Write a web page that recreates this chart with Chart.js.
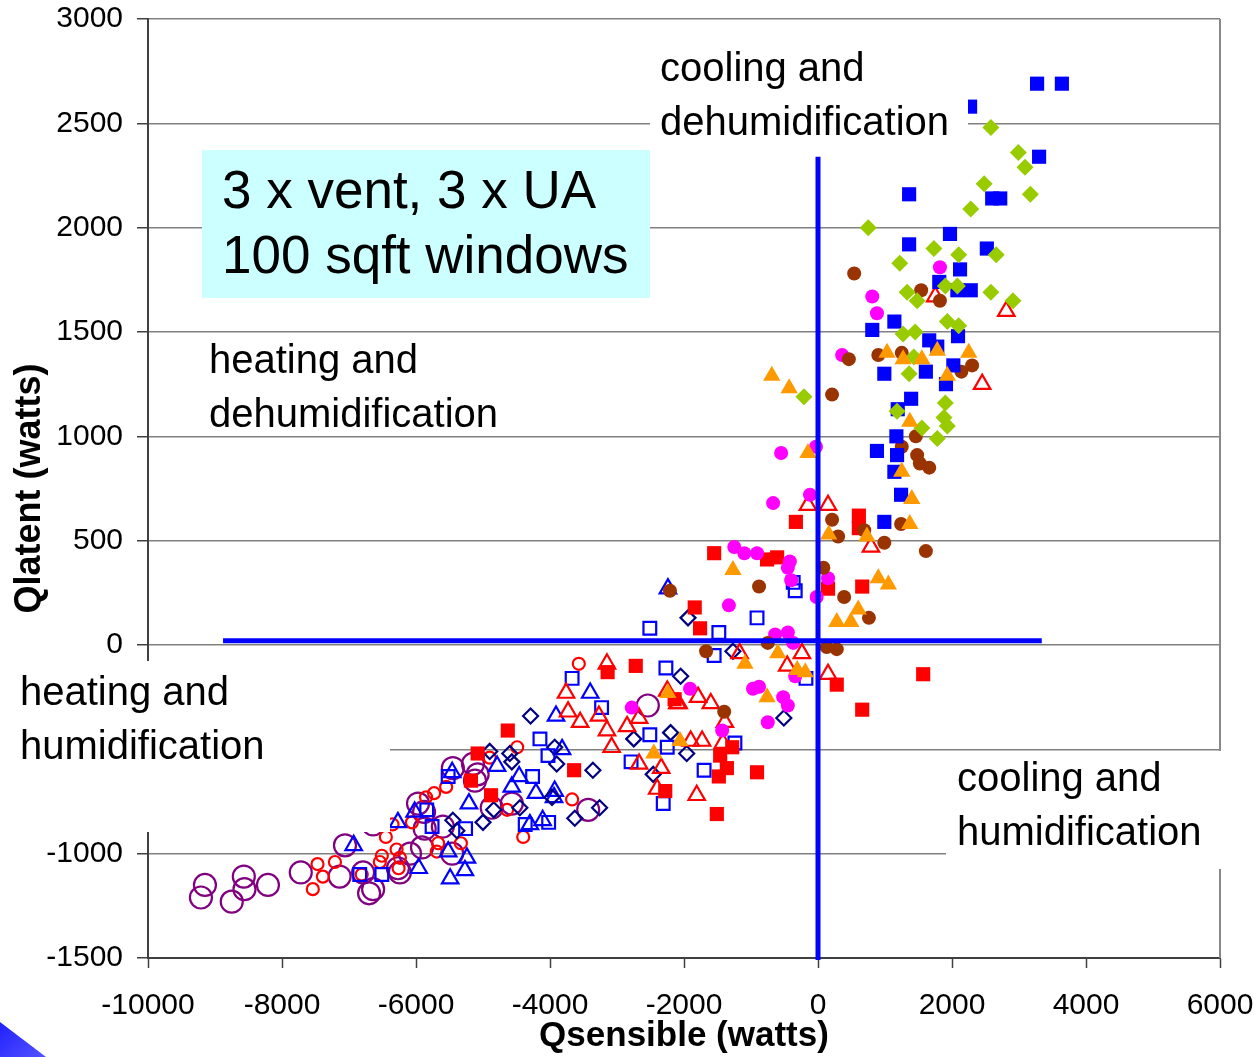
<!DOCTYPE html>
<html lang="en">
<head>
    <meta charset="UTF-8">
    <title>Qsensible vs Qlatent</title>
    <script src="https://cdn.jsdelivr.net/npm/chart.js"></script>
    <style>
        body {
            margin: 0;
            background: #ffffff;
        }
        #wrap {
            width: 1256px;
            height: 1057px;
        }
    </style>
</head>
<body>
    <div id="wrap">
        <canvas id="scatterChart"></canvas>
    </div>
    <script>
        // axis ticks
        const xTicks = [-10000, -8000, -6000, -4000, -2000, 0, 2000, 4000, 6000];
        const yTicks = [-1500, -1000, -500, 0, 500, 1000, 1500, 2000, 2500, 3000];

        // quadrant dividers (watts)
        const hDivider = [[-8880, 20], [3340, 20]];
        const vDivider = [[0, 2340], [0, -1510]];

        // series values, [Qsensible, Qlatent]
        const blueSquares = [[3270, 2690], [3640, 2690], [2270, 2580], [3300, 2340], [1360, 2160], [2600, 2140],
            [2720, 2140], [1970, 1970], [1360, 1920], [2520, 1900], [2120, 1800], [1810, 1740], [2080, 1700],
            [2280, 1700], [1140, 1550], [810, 1510], [1660, 1460], [2090, 1480], [1780, 1430], [990, 1300],
            [1610, 1310], [2020, 1340], [1910, 1250], [1390, 1180], [1190, 1130], [1170, 1000], [880, 930],
            [1180, 910], [1140, 830], [1240, 720], [990, 590]];
        const greenDiamonds = [[2580, 2480], [2990, 2360], [3090, 2290], [2480, 2210], [3170, 2160], [2280, 2090],
            [750, 2000], [1730, 1900], [2100, 1870], [2660, 1870], [1220, 1830], [1900, 1720], [2080, 1720],
            [2580, 1690], [2910, 1650], [1330, 1690], [1480, 1650], [1930, 1550], [2100, 1530], [1270, 1490],
            [1450, 1500], [1430, 1380], [1360, 1300], [-210, 1190], [1180, 1120], [1900, 1160], [1880, 1090],
            [1930, 1050], [1550, 1040], [1780, 990]];
        const orangeTriangles = [[-690, 1290], [-430, 1230], [1030, 1400], [1270, 1370], [1550, 1370], [1780, 1410],
            [2250, 1400], [1930, 1290], [1370, 1070], [-150, 920], [1250, 830], [1400, 700], [1370, 580],
            [160, 530], [730, 520], [-1270, 360], [280, 110], [490, 110], [600, 170], [900, 320], [1050, 290],
            [-600, -40], [-1090, -90], [-310, -120], [-190, -130], [-760, -250], [-2240, -230], [-2450, -520],
            [-2060, -460]];
        const brownCircles = [[540, 1780], [1540, 1700], [1820, 1650], [460, 1370], [900, 1390], [1250, 1400],
            [2140, 1310], [2300, 1340], [210, 1200], [1460, 1000], [1250, 950], [1480, 910], [1520, 870],
            [1660, 850], [210, 600], [300, 520], [690, 550], [990, 490], [1240, 580], [1610, 450], [-2210, 260],
            [-880, 280], [80, 370], [390, 230], [760, 130], [-1670, -30], [-750, 10], [130, -10], [280, -20],
            [-1400, -320]];
        const magentaCircles = [[1820, 1810], [810, 1670], [880, 1590], [360, 1390], [-550, 920], [-30, 950],
            [-120, 720], [-670, 680], [-1250, 470], [-1100, 440], [-910, 440], [-420, 400], [-450, 370],
            [-400, 310], [150, 320], [-20, 230], [-1330, 190], [-640, 50], [-450, 60], [-370, 10], [-340, -150],
            [-970, -210], [-880, -200], [-520, -250], [-450, -290], [-750, -370], [-1910, -210], [-2780, -300],
            [-1430, -410]];
        const redSquares = [[-330, 590], [610, 620], [610, 560], [-1550, 440], [-760, 410], [-610, 420], [150, 270],
            [660, 280], [-1840, 180], [-1760, 80], [280, -190], [660, -310], [-2140, -260], [-3140, -130],
            [-2720, -100], [-4630, -410], [-5080, -520], [-5180, -650], [-4880, -720], [-3640, -600],
            [-2280, -700], [-1510, -810], [-1280, -490], [-1460, -530], [-1360, -590], [-1480, -630],
            [1570, -140], [-910, -610]];
        const redTriangles = [[1750, 1670], [2810, 1600], [2450, 1250], [-150, 670], [150, 670], [790, 470],
            [-1170, -40], [-240, -40], [-460, -100], [150, -140], [-2250, -220], [-1790, -250], [-1600, -280],
            [-2080, -280], [-1390, -370], [-3150, -90], [-3760, -230], [-3730, -320], [-3550, -370],
            [-3270, -340], [-3150, -410], [-3080, -490], [-2850, -390], [-2670, -350], [-1420, -470],
            [-2670, -570], [-2340, -590], [-2400, -690], [-1810, -720], [-1900, -460], [-1730, -460],
            [-2100, -280]];
        const blueOpenSquares = [[-370, 300], [-340, 260], [-910, 130], [-1480, 60], [-1550, -50], [-2270, -110],
            [-180, -160], [-3670, -160], [-3230, -300], [-4150, -450], [-4030, -530], [-2510, -430],
            [-2790, -560], [-2250, -490], [-1700, -600], [-2310, -760], [-4260, -630], [-4370, -860],
            [-4020, -850], [-5520, -630], [-5840, -790], [-5760, -870], [-5260, -880], [-6840, -1100],
            [-6510, -1100], [-2510, 80], [-1240, -470]];
        const navyDiamonds = [[-2050, -150], [-4290, -340], [-2200, -420], [-2750, -450], [-4900, -510],
            [-4600, -520], [-4570, -560], [-3930, -490], [-3900, -570], [-3360, -600], [-1960, -520],
            [-2460, -620], [-5000, -850], [-4450, -780], [-3260, -780], [-3630, -830], [-4840, -790],
            [-3970, -730], [-5450, -840], [-5390, -890], [-1940, 130], [-510, -350], [-1270, -30]];
        const blueTriangles = [[-3400, -230], [-3910, -340], [-3820, -500], [-4790, -580], [-5210, -760],
            [-4460, -630], [-4570, -680], [-4210, -710], [-3930, -700], [-3940, -730], [-4110, -840],
            [-4300, -860], [-5460, -610], [-6020, -800], [-6270, -850], [-6930, -960], [-5520, -990],
            [-5240, -1020], [-5960, -1070], [-5270, -1080], [-5490, -1120], [-2240, 270]];
        const redCircles = [[-3570, -90], [-4490, -490], [-4900, -540], [-3670, -740], [-4640, -790], [-5550, -680],
            [-5730, -710], [-5850, -730], [-6060, -850], [-6350, -860], [-6450, -920], [-4400, -920],
            [-5670, -950], [-5330, -950], [-5690, -990], [-6290, -980], [-6240, -1020], [-6510, -1010],
            [-6540, -1040], [-6260, -1070], [-7470, -1050], [-7210, -1040], [-7390, -1110], [-7540, -1170],
            [-6810, -1100]];
        const purpleCircles = [[-9150, -1150], [-9210, -1210], [-8570, -1110], [-8560, -1170], [-8750, -1230],
            [-8210, -1150], [-7720, -1090], [-7060, -960], [-7140, -1110], [-6790, -1090], [-6700, -1190],
            [-6640, -860], [-5970, -760], [-5880, -800], [-5870, -880], [-6240, -1090], [-6090, -1000],
            [-5450, -590], [-5150, -570], [-5120, -650], [-5600, -870], [-5910, -970], [-6270, -1070],
            [-6640, -1170], [-5460, -1000], [-4570, -760], [-4870, -780], [-5080, -620], [-2540, -290],
            [-3430, -790]];

        function pts(list) {
            return list.map(p => ({ x: p[0], y: p[1] }));
        }

        function marks(list, shape, radius, color, filled) {
            return {
                data: pts(list),
                pointStyle: shape,
                pointRadius: radius,
                pointBackgroundColor: filled ? color : 'rgba(0,0,0,0)',
                pointBorderColor: color,
                pointBorderWidth: filled ? 0 : 2.2,
                showLine: false
            };
        }

        function divider(list) {
            return {
                type: 'line',
                data: pts(list),
                borderColor: '#0000ff',
                borderWidth: 5,
                pointRadius: 0,
                showLine: true,
                fill: false,
                clip: false
            };
        }

        // first dataset is drawn on top
        const datasets = [
            divider(hDivider),
            divider(vDivider),
            marks(orangeTriangles, 'triangle', 10, '#ff9900', true),
            marks(greenDiamonds, 'rectRot', 8.5, '#99cc00', true),
            marks(blueSquares, 'rect', 10, '#0000ff', true),
            marks(brownCircles, 'circle', 7, '#993300', true),
            marks(magentaCircles, 'circle', 7, '#ff00ff', true),
            marks(redSquares, 'rect', 10, '#ff0000', true),
            marks(redTriangles, 'triangle', 9.5, '#ff0000', false),
            marks(blueOpenSquares, 'rect', 9, '#0000ff', false),
            marks(navyDiamonds, 'rectRot', 7.5, '#000080', false),
            marks(blueTriangles, 'triangle', 9.5, '#0000ff', false),
            marks(redCircles, 'circle', 6, '#ff0000', false),
            marks(purpleCircles, 'circle', 11, '#800080', false)
        ];

        // white / cyan label boxes that sit over the plot
        const labelBoxes = [
            { x: 202, y: 150, w: 448, h: 148, bg: '#ccffff', size: 53, gap: 65,
              lines: ['3 x vent, 3 x UA', '100 sqft windows'], tx: 222, ty: 193 },
            { x: 650, y: 44, w: 318, h: 102, bg: '#ffffff', size: 40, gap: 54,
              lines: ['cooling and', 'dehumidification'], tx: 660, ty: 70 },
            { x: 198, y: 333, w: 512, h: 102, bg: '#ffffff', size: 40, gap: 54,
              lines: ['heating and', 'dehumidification'], tx: 209, ty: 362 },
            { x: 8, y: 661, w: 382, h: 171, bg: '#ffffff', size: 40, gap: 54,
              lines: ['heating and', 'humidification'], tx: 20, ty: 694 },
            { x: 946, y: 751, w: 276, h: 118, bg: '#ffffff', size: 40, gap: 54,
              lines: ['cooling and', 'humidification'], tx: 957, ty: 780 }
        ];

        const overlay = {
            id: 'overlay',
            afterDraw(chart) {
                const ctx = chart.ctx;
                const a = chart.chartArea;
                ctx.save();
                // right frame edge
                ctx.strokeStyle = '#888888';
                ctx.lineWidth = 2;
                ctx.beginPath();
                ctx.moveTo(a.right, a.top);
                ctx.lineTo(a.right, a.bottom);
                ctx.stroke();

                labelBoxes.forEach(b => {
                    ctx.fillStyle = b.bg;
                    ctx.fillRect(b.x, b.y, b.w, b.h);
                    ctx.fillStyle = '#000000';
                    ctx.font = b.size + 'px "Liberation Sans", Arial, sans-serif';
                    ctx.textAlign = 'left';
                    ctx.textBaseline = 'middle';
                    b.lines.forEach((t, i) => ctx.fillText(t, b.tx, b.ty + i * b.gap));
                });

                // slide corner decoration
                const g = ctx.createLinearGradient(0, 1020, 40, 1057);
                g.addColorStop(0, '#2020ff');
                g.addColorStop(1, '#5050ff');
                ctx.fillStyle = g;
                ctx.beginPath();
                ctx.moveTo(0, 1022);
                ctx.lineTo(46, 1057);
                ctx.lineTo(0, 1057);
                ctx.closePath();
                ctx.fill();
                ctx.restore();
            }
        };

        Chart.defaults.font.family = '"Liberation Sans", Arial, sans-serif';
        Chart.defaults.color = '#000000';

        const ctx = document.getElementById('scatterChart').getContext('2d');
        new Chart(ctx, {
            type: 'scatter',
            data: { datasets: datasets },
            options: {
                responsive: true,
                maintainAspectRatio: false,
                animation: false,
                layout: { padding: { top: 19, right: 36, left: 0, bottom: 0 } },
                plugins: {
                    legend: { display: false },
                    tooltip: { enabled: false }
                },
                scales: {
                    x: {
                        type: 'linear',
                        min: xTicks[0],
                        max: xTicks[xTicks.length - 1],
                        afterFit: s => {
                            s.height = 99;
                            s.paddingLeft = 0;
                            s.paddingRight = 0;
                        },
                        afterBuildTicks: s => { s.ticks = xTicks.map(v => ({ value: v })); },
                        border: { color: '#404040', width: 2 },
                        grid: { drawOnChartArea: false, drawTicks: true, tickLength: 10, tickColor: '#404040', tickWidth: 1.5 },
                        ticks: { font: { size: 30 }, padding: 20, maxRotation: 0, callback: v => String(v) },
                        title: {
                            display: true,
                            text: 'Qsensible (watts)',
                            font: { size: 35, weight: 'bold' },
                            padding: { top: 0, bottom: 0 }
                        }
                    },
                    y: {
                        type: 'linear',
                        min: yTicks[0],
                        max: yTicks[yTicks.length - 1],
                        afterFit: s => {
                            s.width = 148;
                            s.paddingTop = 0;
                            s.paddingBottom = 0;
                        },
                        afterBuildTicks: s => { s.ticks = yTicks.map(v => ({ value: v })); },
                        border: { color: '#404040', width: 2 },
                        grid: { color: '#808080', lineWidth: 1.5, tickLength: 11, tickColor: '#404040', tickWidth: 1.5 },
                        ticks: { font: { size: 30 }, padding: 14, callback: v => String(v) },
                        title: {
                            display: true,
                            text: 'Qlatent (watts)',
                            font: { family: '"Liberation Sans Narrow", "Liberation Sans", Arial, sans-serif', size: 36, weight: 'bold' },
                            padding: { top: 8, bottom: 0 }
                        }
                    }
                }
            },
            plugins: [overlay]
        });
    </script>
</body>
</html>
